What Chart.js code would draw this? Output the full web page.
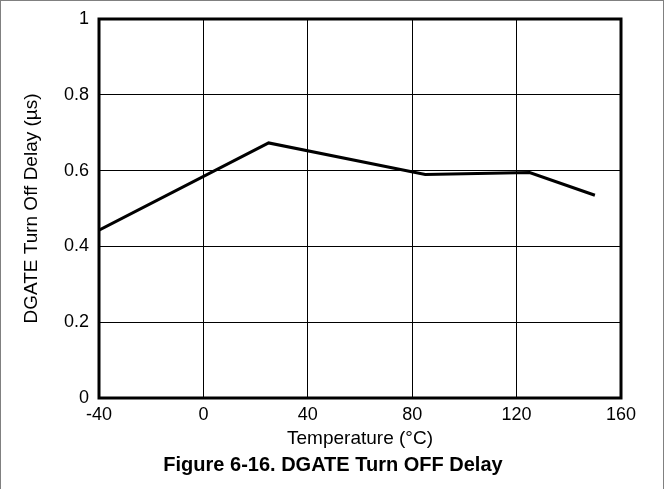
<!DOCTYPE html>
<html>
<head>
<meta charset="utf-8">
<script src="https://cdn.jsdelivr.net/npm/chart.js@4/dist/chart.umd.min.js"></script>
<style>
  html, body { margin: 0; padding: 0; background: #fff; }
  #wrap { position: relative; width: 664px; height: 489px; box-sizing: border-box;
          border-left: 1px solid #808080; border-top: 1px solid #808080; border-right: 1px solid #808080; }
  #chart { position: absolute; left: 0; top: 0; }
  #caption { position: absolute; left: 0; width: 664px; top: 452px; text-align: center;
             font-family: "Liberation Sans", Arial, sans-serif; font-weight: bold; font-size: 20px; color: #000; }
</style>
</head>
<body>
<div id="wrap">
  <canvas id="chart" width="664" height="489"></canvas>
  <div id="caption">Figure 6-16. DGATE Turn OFF Delay</div>
</div>
<script>
var temperatures = [-40, 25, 85, 125, 150]
var delays = [0.443, 0.673, 0.59, 0.595, 0.535]
var xRange = [-40, 160]
var yRange = [0, 1]
var xTitle = 'Temperature (\u00B0C)'
var yTitle = 'DGATE Turn Off Delay (\u00B5s)'

var fontFamily = '"Liberation Sans", Arial, sans-serif'

// thick frame around the plot area
var frame = {
    id: 'frame',
    afterDraw: function (chart) {
        var a = chart.chartArea
        var ctx = chart.ctx
        ctx.save()
        ctx.strokeStyle = '#000'
        ctx.lineWidth = 3
        ctx.strokeRect(a.left, a.top, a.right - a.left, a.bottom - a.top)
        ctx.restore()
    }
}

var points = temperatures.map((t, i) => ({ x: t, y: delays[i] }))

new Chart(document.getElementById('chart'), {
    type: 'line',
    data: {
        datasets: [{
            data: points,
            borderColor: '#000',
            borderWidth: 3,
            pointRadius: 0,
            tension: 0,
            fill: false
        }]
    },
    options: {
        responsive: false,
        animation: false,
        layout: { padding: { top: 18, right: 44, left: 19, bottom: 36 } },
        plugins: { legend: { display: false }, tooltip: { enabled: false } },
        scales: {
            x: {
                type: 'linear',
                min: xRange[0],
                max: xRange[1],
                afterFit: function (scale) {
                    scale.height = 56
                    scale.paddingLeft = 0
                    scale.paddingRight = 0
                },
                ticks: {
                    stepSize: 40,
                    padding: 6,
                    color: '#000',
                    font: { family: fontFamily, size: 18 }
                },
                grid: { color: '#000', lineWidth: 1, drawTicks: false },
                border: { display: false },
                title: {
                    display: true,
                    text: xTitle,
                    color: '#000',
                    padding: { top: 0, bottom: 4 },
                    font: { family: fontFamily, size: 19 }
                }
            },
            y: {
                min: yRange[0],
                max: yRange[1],
                afterFit: function (scale) {
                    scale.width = 79
                    scale.paddingTop = 0
                    scale.paddingBottom = 0
                },
                ticks: {
                    stepSize: 0.2,
                    padding: 10,
                    color: '#000',
                    font: { family: fontFamily, size: 18 },
                    callback: function (v) { return Math.round(v * 10) / 10 }
                },
                grid: { color: '#000', lineWidth: 1, drawTicks: false },
                border: { display: false },
                title: {
                    display: true,
                    text: yTitle,
                    color: '#000',
                    padding: 0,
                    font: { family: fontFamily, size: 19 }
                }
            }
        }
    },
    plugins: [frame]
})
</script>
</body>
</html>
